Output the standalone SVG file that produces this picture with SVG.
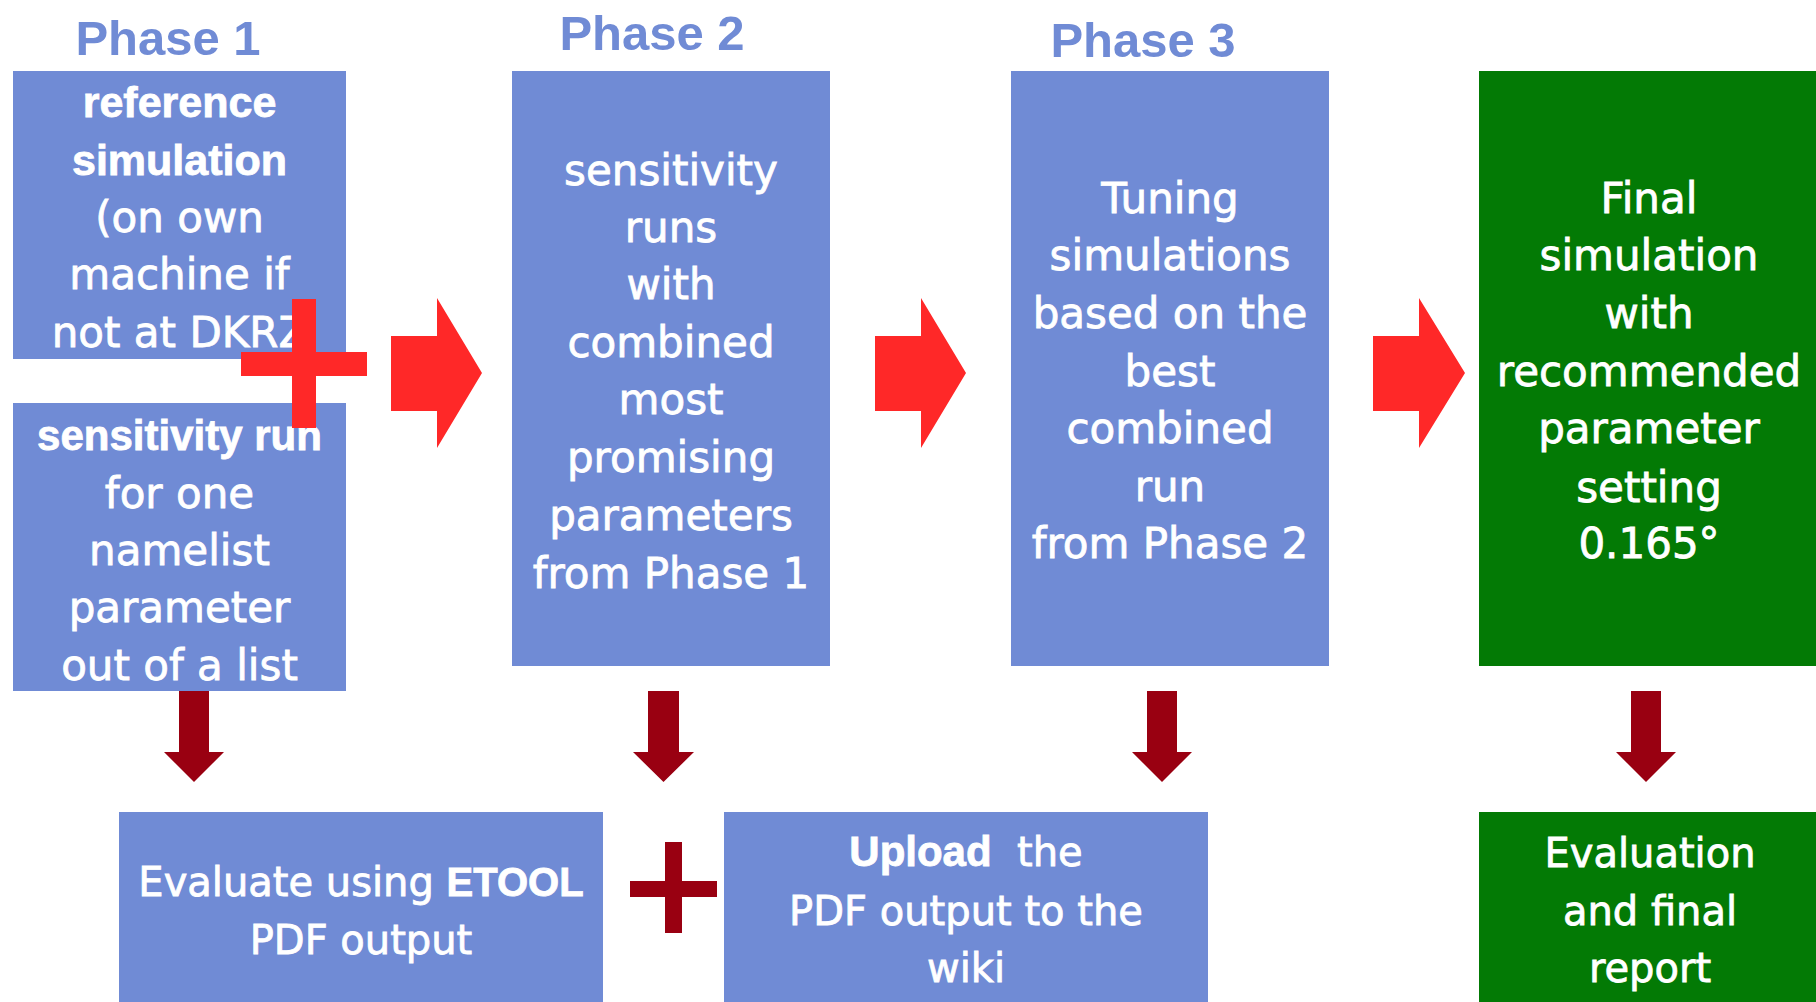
<svg xmlns="http://www.w3.org/2000/svg" width="1816" height="1002" viewBox="0 0 1816 1002">
<style>
.blue{fill:#708BD5}
.green{fill:#037A05}
.head{font-family:"Liberation Sans",Arial,sans-serif;font-weight:bold;font-size:49px;fill:#708BD5;text-anchor:middle}
.t{font-family:"DejaVu Sans",Verdana,sans-serif;font-size:42px;fill:#ffffff;stroke:#ffffff;stroke-width:0.8px;text-anchor:middle}
.tb{font-family:"DejaVu Sans",Verdana,sans-serif;font-size:40px;fill:#ffffff;stroke:#ffffff;stroke-width:0.8px;text-anchor:middle}
.b{font-family:"Liberation Sans",Arial,sans-serif;font-weight:bold}
.red{fill:#FF2828}
.dred{fill:#990011}
</style>
<rect width="1816" height="1002" fill="#ffffff"/>
<g id="headings">
<text class="head" x="168" y="55">Phase 1</text>
<text class="head" x="652" y="50">Phase 2</text>
<text class="head" x="1143" y="57">Phase 3</text>
</g>
<g id="ref-sim">
<rect class="blue" x="13" y="71" width="333" height="288"/>
<text class="t" x="179.5" y="117"><tspan class="b" font-size="43">reference</tspan></text>
<text class="t" x="179.5" y="175"><tspan class="b" font-size="43">simulation</tspan></text>
<text class="t" x="179.5" y="232">(on own</text>
<text class="t" x="179.5" y="289">machine if</text>
<text class="t" x="179.5" y="347">not at DKRZ</text>
</g>
<g id="sens-run">
<rect class="blue" x="13" y="403" width="333" height="288"/>
<text class="t" x="179.5" y="450"><tspan class="b">sensitivity run</tspan></text>
<text class="t" x="179.5" y="508">for one</text>
<text class="t" x="179.5" y="565">namelist</text>
<text class="t" x="179.5" y="622">parameter</text>
<text class="t" x="179.5" y="680">out of a list</text>
</g>
<g id="phase2">
<rect class="blue" x="512" y="71" width="318" height="595"/>
<text class="t" x="671" y="185">sensitivity</text>
<text class="t" x="671" y="242">runs</text>
<text class="t" x="671" y="299">with</text>
<text class="t" x="671" y="357">combined</text>
<text class="t" x="671" y="414">most</text>
<text class="t" x="671" y="472">promising</text>
<text class="t" x="671" y="530">parameters</text>
<text class="t" x="671" y="588">from Phase 1</text>
</g>
<g id="phase3">
<rect class="blue" x="1011" y="71" width="318" height="595"/>
<text class="t" x="1170" y="213">Tuning</text>
<text class="t" x="1170" y="270">simulations</text>
<text class="t" x="1170" y="328">based on the</text>
<text class="t" x="1170" y="386">best</text>
<text class="t" x="1170" y="443">combined</text>
<text class="t" x="1170" y="501">run</text>
<text class="t" x="1170" y="558">from Phase 2</text>
</g>
<g id="final">
<rect class="green" x="1479" y="71" width="337" height="595"/>
<text class="t" x="1649" y="213">Final</text>
<text class="t" x="1649" y="270">simulation</text>
<text class="t" x="1649" y="328">with</text>
<text class="t" x="1649" y="386">recommended</text>
<text class="t" x="1649" y="443">parameter</text>
<text class="t" x="1649" y="502">setting</text>
<text class="t" x="1649" y="558">0.165°</text>
</g>
<g id="evaluate">
<rect class="blue" x="119" y="812" width="484" height="190"/>
<text class="tb" x="361" y="896">Evaluate using <tspan class="b">ETOOL</tspan></text>
<text class="tb" x="361" y="954">PDF output</text>
</g>
<g id="upload">
<rect class="blue" x="724" y="812" width="484" height="190"/>
<text class="tb" x="966" y="866"><tspan class="b" font-size="42">Upload</tspan>&#160; the</text>
<text class="tb" x="966" y="925">PDF output to the</text>
<text class="tb" x="966" y="982">wiki</text>
</g>
<g id="report">
<rect class="green" x="1479" y="812" width="337" height="190"/>
<text class="tb" x="1650" y="867">Evaluation</text>
<text class="tb" x="1650" y="925">and final</text>
<text class="tb" x="1650" y="982">report</text>
</g>
<g id="connectors">
<path class="red" d="M391,336 H437 V298 L482,373 L437,448 V411 H391 Z"/>
<path class="red" d="M875,336 H921 V298 L966,373 L921,448 V411 H875 Z"/>
<path class="red" d="M1373,336 H1419 V298 L1465,373 L1419,448 V411 H1373 Z"/>
<path class="dred" d="M179,691 H209 V752 H224 L194,782 L164,752 H179 Z"/>
<path class="dred" d="M648,691 H679 V752 H694 L663.5,782 L633,752 H648 Z"/>
<path class="dred" d="M1147,691 H1177 V752 H1192 L1162,782 L1132,752 H1147 Z"/>
<path class="dred" d="M1631,691 H1661 V752 H1676 L1646,782 L1616,752 H1631 Z"/>
</g>
<g id="plus-signs">
<path class="red" d="M292,299 H316 V352 H367 V376 H316 V428 H292 V376 H241 V352 H292 Z"/>
<path class="dred" d="M665,842 H682 V881 H717 V897 H682 V933 H665 V897 H630 V881 H665 Z"/>
</g>
</svg>
